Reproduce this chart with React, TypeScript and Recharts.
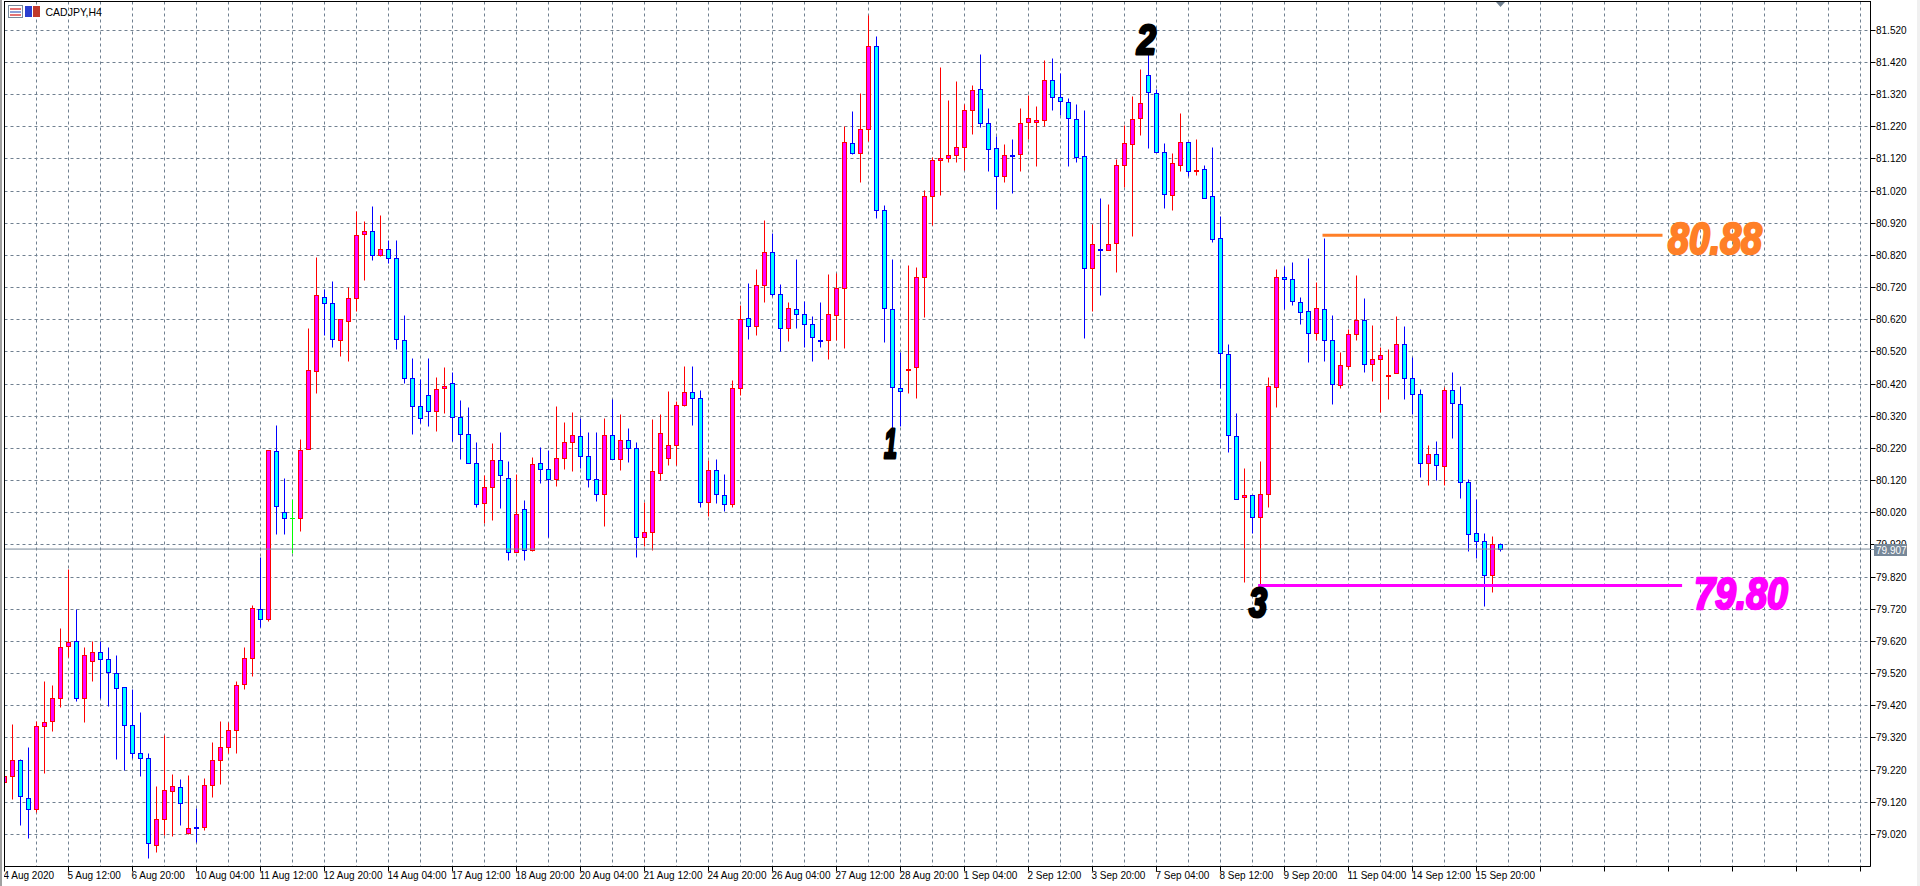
import { ComposedChart, Bar, XAxis, YAxis, CartesianGrid, ReferenceLine } from 'recharts'

const dateLabels = [
  '4 Aug 2020', '5 Aug 12:00', '6 Aug 20:00', '10 Aug 04:00', '11 Aug 12:00', '12 Aug 20:00', '14 Aug 04:00', '17 Aug 12:00',
  '18 Aug 20:00', '20 Aug 04:00', '21 Aug 12:00', '24 Aug 20:00', '26 Aug 04:00', '27 Aug 12:00', '28 Aug 20:00', '1 Sep 04:00',
  '2 Sep 12:00', '3 Sep 20:00', '7 Sep 04:00', '8 Sep 12:00', '9 Sep 20:00', '11 Sep 04:00', '14 Sep 12:00', '15 Sep 20:00',
]

const priceTicks = [
  79.02, 79.12, 79.22, 79.32, 79.42, 79.52, 79.62, 79.72, 79.82, 79.92, 80.02, 80.12, 80.22,
  80.32, 80.42, 80.52, 80.62, 80.72, 80.82, 80.92, 81.02, 81.12, 81.22, 81.32, 81.42, 81.52,
]

const timeTicks = [
  0, 4, 8, 12, 16, 20, 24, 28, 32, 36, 40, 44, 48, 52, 56, 60, 64, 68, 72, 76, 80, 84, 88, 92, 96, 100, 104, 108, 112, 116,
  120, 124, 128, 132, 136, 140, 144, 148, 152, 156, 160, 164, 168, 172, 176, 180, 184, 188, 192, 196, 200, 204, 208, 212, 216,
  220, 224, 228, 232,
]

const lastPrice = 79.907
const resistance = 80.883
const support = 79.794

const opens = [
  79.182, 79.200, 79.250, 79.132, 79.097, 79.356, 79.371, 79.443, 79.605, 79.621,
  79.443, 79.558, 79.586, 79.565, 79.521, 79.477, 79.359, 79.272, 79.257, 78.986,
  79.067, 79.154, 79.166, 79.022, 79.041, 79.042, 79.172, 79.250, 79.290, 79.343,
  79.486, 79.568, 79.720, 79.688, 80.211, 80.020, 80.001, 80.001, 80.216, 80.458,
  80.689, 80.671, 80.556, 80.615, 80.686, 80.885, 80.895, 80.820, 80.839, 80.812,
  80.556, 80.437, 80.350, 80.384, 80.334, 80.406, 80.422, 80.316, 80.263, 80.172,
  80.048, 80.098, 80.182, 80.126, 79.895, 80.029, 79.904, 80.172, 80.154, 80.122,
  80.188, 80.238, 80.256, 80.194, 80.122, 80.076, 80.260, 80.185, 80.244, 80.219,
  79.942, 79.960, 80.141, 80.188, 80.228, 80.353, 80.394, 80.375, 80.051, 80.151,
  80.073, 80.045, 80.406, 80.624, 80.599, 80.727, 80.830, 80.699, 80.593, 80.652,
  80.636, 80.605, 80.557, 80.554, 80.633, 80.717, 81.168, 81.137, 81.212, 81.470,
  80.960, 80.652, 80.406, 80.462, 80.473, 80.751, 81.003, 81.115, 81.122, 81.131,
  81.156, 81.271, 81.336, 81.231, 81.153, 81.066, 81.132, 81.134, 81.234, 81.234,
  81.240, 81.364, 81.311, 81.296, 81.243, 81.129, 80.780, 80.838, 80.836, 80.857,
  81.099, 81.165, 81.246, 81.380, 81.324, 81.140, 81.007, 81.100, 81.171, 81.081,
  81.087, 81.003, 80.873, 80.512, 80.256, 80.068, 80.075, 80.006, 80.078, 80.408,
  80.752, 80.746, 80.674, 80.646, 80.577, 80.652, 80.556, 80.415, 80.475, 80.574,
  80.619, 80.481, 80.496, 80.446, 80.453, 80.544, 80.437, 80.387, 80.172, 80.200,
  80.163, 80.400, 80.356, 80.114, 79.954, 79.932, 79.826, 79.920,
]

const highs = [
  79.210, 79.360, 79.254, 79.289, 79.371, 79.494, 79.482, 79.659, 79.843, 79.720,
  79.602, 79.619, 79.619, 79.602, 79.577, 79.477, 79.469, 79.398, 79.272, 79.170,
  79.328, 79.205, 79.189, 79.202, 79.099, 79.195, 79.307, 79.370, 79.368, 79.496,
  79.600, 79.733, 79.881, 80.215, 80.292, 80.127, 80.060, 80.248, 80.594, 80.815,
  80.714, 80.740, 80.621, 80.719, 80.956, 80.927, 80.971, 80.943, 80.868, 80.868,
  80.633, 80.500, 80.433, 80.500, 80.441, 80.472, 80.456, 80.369, 80.348, 80.239,
  80.135, 80.236, 80.269, 80.180, 80.139, 80.058, 80.192, 80.223, 80.214, 80.351,
  80.301, 80.332, 80.314, 80.270, 80.270, 80.314, 80.373, 80.325, 80.282, 80.239,
  80.052, 80.310, 80.325, 80.398, 80.367, 80.476, 80.476, 80.401, 80.183, 80.186,
  80.139, 80.432, 80.665, 80.733, 80.775, 80.930, 80.887, 80.731, 80.675, 80.806,
  80.677, 80.630, 80.675, 80.762, 80.764, 81.222, 81.269, 81.322, 81.565, 81.502,
  80.974, 80.806, 80.519, 80.790, 80.781, 81.023, 81.126, 81.403, 81.303, 81.362,
  81.288, 81.347, 81.446, 81.278, 81.191, 81.166, 81.182, 81.278, 81.318, 81.284,
  81.425, 81.431, 81.386, 81.309, 81.288, 81.272, 80.917, 80.998, 80.977, 81.119,
  81.224, 81.313, 81.397, 81.450, 81.336, 81.168, 81.138, 81.260, 81.171, 81.182,
  81.101, 81.157, 80.942, 80.544, 80.329, 80.156, 80.075, 80.180, 80.440, 80.775,
  80.785, 80.797, 80.690, 80.809, 80.737, 80.874, 80.634, 80.518, 80.591, 80.759,
  80.687, 80.603, 80.535, 80.526, 80.631, 80.598, 80.504, 80.404, 80.229, 80.241,
  80.409, 80.456, 80.411, 80.124, 80.061, 79.955, 79.945, 79.923,
]

const lows = [
  79.170, 79.128, 79.047, 79.007, 79.088, 79.209, 79.339, 79.414, 79.571, 79.433,
  79.367, 79.494, 79.441, 79.417, 79.252, 79.218, 79.257, 79.199, 78.944, 78.963,
  79.017, 79.013, 79.049, 79.018, 78.996, 79.031, 79.136, 79.174, 79.272, 79.271,
  79.470, 79.511, 79.663, 79.681, 79.953, 79.953, 79.892, 79.963, 80.216, 80.392,
  80.570, 80.533, 80.505, 80.489, 80.645, 80.742, 80.805, 80.816, 80.795, 80.526,
  80.421, 80.264, 80.297, 80.289, 80.274, 80.330, 80.240, 80.187, 80.172, 80.037,
  79.985, 79.997, 80.034, 79.872, 79.895, 79.872, 79.900, 80.111, 79.943, 80.103,
  80.155, 80.148, 80.158, 80.099, 80.055, 79.978, 80.185, 80.152, 80.176, 79.882,
  79.916, 79.904, 80.119, 80.167, 80.166, 80.349, 80.292, 80.037, 80.009, 80.050,
  80.024, 80.037, 80.383, 80.560, 80.572, 80.675, 80.693, 80.522, 80.553, 80.594,
  80.535, 80.491, 80.535, 80.497, 80.557, 80.532, 81.133, 81.046, 81.174, 80.934,
  80.548, 80.282, 80.289, 80.391, 80.376, 80.626, 80.913, 81.005, 81.110, 81.108,
  81.085, 81.197, 81.217, 81.080, 80.962, 81.046, 81.012, 81.082, 81.181, 81.096,
  81.222, 81.272, 81.256, 81.096, 81.108, 80.563, 80.647, 80.694, 80.836, 80.768,
  81.031, 80.878, 81.194, 81.154, 81.140, 80.967, 80.961, 81.080, 81.064, 81.068,
  80.997, 80.859, 80.406, 80.206, 80.060, 79.803, 79.955, 79.795, 80.036, 80.348,
  80.652, 80.664, 80.605, 80.486, 80.557, 80.489, 80.355, 80.405, 80.465, 80.557,
  80.455, 80.427, 80.333, 80.373, 80.453, 80.373, 80.324, 80.128, 80.105, 80.120,
  80.106, 80.250, 80.065, 79.900, 79.879, 79.729, 79.772, 79.898,
]

const closes = [
  79.200, 79.250, 79.138, 79.098, 79.356, 79.369, 79.443, 79.602, 79.618, 79.443,
  79.577, 79.586, 79.565, 79.523, 79.474, 79.359, 79.272, 79.255, 78.991, 79.067,
  79.157, 79.169, 79.116, 79.039, 79.040, 79.172, 79.250, 79.291, 79.344, 79.484,
  79.568, 79.723, 79.689, 80.212, 80.038, 80.001, 80.001, 80.213, 80.462, 80.696,
  80.671, 80.559, 80.621, 80.686, 80.883, 80.895, 80.820, 80.839, 80.811, 80.559,
  80.437, 80.350, 80.312, 80.334, 80.403, 80.412, 80.316, 80.263, 80.172, 80.045,
  80.098, 80.182, 80.135, 79.895, 80.013, 79.904, 80.169, 80.154, 80.122, 80.188,
  80.238, 80.260, 80.194, 80.122, 80.076, 80.260, 80.185, 80.244, 80.219, 79.942,
  79.960, 80.147, 80.266, 80.228, 80.353, 80.394, 80.375, 80.051, 80.151, 80.076,
  80.045, 80.406, 80.621, 80.599, 80.727, 80.830, 80.699, 80.593, 80.655, 80.636,
  80.605, 80.565, 80.556, 80.636, 80.717, 81.171, 81.137, 81.212, 81.470, 80.960,
  80.655, 80.408, 80.397, 80.464, 80.752, 81.003, 81.116, 81.122, 81.131, 81.156,
  81.271, 81.333, 81.231, 81.150, 81.066, 81.131, 81.131, 81.231, 81.246, 81.240,
  81.364, 81.311, 81.299, 81.246, 81.125, 80.780, 80.854, 80.837, 80.854, 81.101,
  81.168, 81.243, 81.293, 81.327, 81.140, 81.010, 81.106, 81.171, 81.080, 81.083,
  80.997, 80.870, 80.515, 80.260, 80.060, 80.075, 80.006, 80.078, 80.414, 80.752,
  80.746, 80.677, 80.643, 80.577, 80.655, 80.556, 80.418, 80.478, 80.574, 80.619,
  80.481, 80.496, 80.509, 80.448, 80.544, 80.437, 80.387, 80.172, 80.200, 80.166,
  80.400, 80.359, 80.113, 79.951, 79.932, 79.826, 79.920, 79.907,
]

const data = opens.map((open, i) => ({ i, open, high: highs[i], low: lows[i], close: closes[i] }))

const CHART_W = 1920
const CHART_H = 886
const GRID = '#708090'
const UI_FONT = '"Liberation Sans", sans-serif'
const BIG_FONT = '"Liberation Sans", sans-serif'

const Candle = ({ x, y, width, height, payload }: any) => {
  const { open, high, low, close } = payload
  const top = Math.min(y, y + height)
  const scale = Math.abs(height) / (high - low)
  const py = (p: number) => Math.floor(top + (high - p) * scale) + 0.5
  const cx = Math.floor(x + width / 2) + 0.5
  const up = close > open
  const flat = close === open
  const line = flat ? '#00ff00' : up ? '#ff0000' : '#0000ff'
  const body = flat ? '#00ff00' : up ? '#ff00ff' : '#00ffff'
  const bodyTop = py(Math.max(open, close))
  const bodyBottom = py(Math.min(open, close))
  return (
    <g>
      <line x1={cx} x2={cx} y1={py(high)} y2={py(low)} stroke={line} strokeWidth={1} />
      {flat ? (
        <line x1={cx - 2.5} x2={cx + 2.5} y1={bodyTop} y2={bodyTop} stroke={line} strokeWidth={1} />
      ) : (
        <rect x={cx - 2} y={bodyTop} width={4} height={Math.max(bodyBottom - bodyTop, 1)} fill={body} stroke={line} strokeWidth={1} />
      )}
    </g>
  )
}

const GridH = ({ x1, x2, y1 }: any) => {
  const y = Math.floor(y1) + 0.5
  return <line x1={x1} x2={x2} y1={y} y2={y} stroke={GRID} strokeDasharray="3 3" strokeWidth={1} />
}

const GridV = ({ x1, y1, y2 }: any) => {
  const x = Math.floor(x1) + 0.5
  return <line x1={x} x2={x} y1={y1} y2={y2} stroke={GRID} strokeDasharray="3 3" strokeWidth={1} />
}

const TimeTick = ({ x, y, payload }: any) => {
  if (payload.value % 8 !== 0) return null
  const label = dateLabels[payload.value / 8]
  const px = Math.floor(x) + 0.5
  return (
    <g>
      <line x1={px} x2={px} y1={y} y2={y + 5} stroke="#000" />
      {label && (
        <text x={px - 1} y={y + 12.5} fontSize={10} fontFamily={UI_FONT} fill="#000">
          {label}
        </text>
      )}
    </g>
  )
}

const PriceTick = ({ x, y, payload }: any) => {
  const py = Math.floor(y) + 0.5
  return (
    <g>
      <line x1={x} x2={x + 5} y1={py} y2={py} stroke="#000" />
      <text x={x + 5.5} y={py + 3.5} fontSize={10} fontFamily={UI_FONT} fill="#000">
        {payload.value.toFixed(3)}
      </text>
    </g>
  )
}

export default function App() {
  return (
    <div style={{ position: 'absolute', left: 0, top: 0, width: CHART_W, height: CHART_H, background: '#fff', overflow: 'hidden' }}>
      <ComposedChart
        width={CHART_W}
        height={CHART_H}
        data={data}
        margin={{ top: 1.5, right: 0, bottom: 0, left: 4.5 }}
        style={{ position: 'absolute', left: 0, top: 0 }}
      >
        <CartesianGrid horizontal={<GridH />} vertical={<GridV />} />
        <XAxis
          dataKey="i"
          type="number"
          domain={[0, 233.25]}
          allowDataOverflow
          ticks={timeTicks}
          interval={0}
          height={19.5}
          tickLine={false}
          tickSize={0}
          tickMargin={0}
          axisLine={{ stroke: '#000' }}
          tick={<TimeTick />}
        />
        <YAxis
          orientation="right"
          domain={[78.92, 81.6096]}
          allowDataOverflow
          ticks={priceTicks}
          interval={0}
          width={49.5}
          tickLine={false}
          tickSize={0}
          tickMargin={0}
          axisLine={{ stroke: '#000' }}
          tick={<PriceTick />}
        />
        <ReferenceLine y={lastPrice} stroke="#778899" strokeWidth={1} />
        <Bar dataKey={(d: any) => [d.low, d.high]} barSize={5} shape={<Candle />} isAnimationActive={false} />
        <ReferenceLine
          stroke="#ff7f27"
          strokeWidth={3}
          segment={[{ x: 164.75, y: resistance }, { x: 207.25, y: resistance }]}
        />
        <ReferenceLine
          stroke="#ff00ff"
          strokeWidth={3}
          segment={[{ x: 156.7, y: support }, { x: 209.7, y: support }]}
        />
      </ComposedChart>

      {/* window frame, symbol caption and hand drawn notes */}
      <svg width={CHART_W} height={CHART_H} style={{ position: 'absolute', left: 0, top: 0, pointerEvents: 'none' }}>
        <rect x={0} y={0} width={4} height={CHART_H} fill="#fff" />
        <rect x={0} y={0} width={2} height={CHART_H} fill="#a0a0a0" />
        <line x1={4.5} x2={4.5} y1={1} y2={866.5} stroke="#000" />
        <line x1={4} x2={1871} y1={1.5} y2={1.5} stroke="#000" />
        <rect x={1917} y={0} width={3} height={CHART_H} fill="#f0f0f0" />
        <path d="M1496 2 h9 l-4.5 5 z" fill="#708090" />

        <line x1={1870} x2={1874} y1={549.5} y2={549.5} stroke="#778899" />
        <rect x={1874} y={544} width={33} height={12} fill="#778899" />
        <text x={1876} y={553.5} fontSize={10} fontFamily={UI_FONT} fill="#fff">{lastPrice.toFixed(3)}</text>

        <rect x={8.5} y={5.5} width={14} height={12} fill="#fff" stroke="#778899" />
        <rect x={10} y={8} width={11} height={2} fill="#e57373" />
        <rect x={10} y={11} width={11} height={2} fill="#8aa0d8" />
        <rect x={10} y={14} width={11} height={2} fill="#e57373" />
        <rect x={25} y={6} width={7} height={11} fill="#2b3fd0" />
        <rect x={33} y={6} width={7} height={11} fill="#c0392b" />
        <text x={45.5} y={15.5} fontSize={10.5} fontFamily={UI_FONT} fill="#000">CADJPY,H4</text>

        <g fontWeight={700} fontStyle="italic" fontFamily={BIG_FONT} strokeLinejoin="round" lengthAdjust="spacingAndGlyphs">
          <text x={1668} y={254} fontSize={45} fill="#ff7f27" stroke="#ff7f27" strokeWidth={2.5} textLength={94} lengthAdjust="spacingAndGlyphs">80.88</text>
          <text x={1694} y={609} fontSize={45} fill="#ff00ff" stroke="#ff00ff" strokeWidth={2.5} textLength={94} lengthAdjust="spacingAndGlyphs">79.80</text>
          <text x={884} y={458} fontSize={42} fill="#000" stroke="#000" strokeWidth={3} textLength={13} lengthAdjust="spacingAndGlyphs">1</text>
          <text x={1137} y={54} fontSize={42} fill="#000" stroke="#000" strokeWidth={3} textLength={19} lengthAdjust="spacingAndGlyphs">2</text>
          <text x={1249} y={617} fontSize={42} fill="#000" stroke="#000" strokeWidth={3} textLength={18} lengthAdjust="spacingAndGlyphs">3</text>
        </g>
      </svg>
    </div>
  )
}
